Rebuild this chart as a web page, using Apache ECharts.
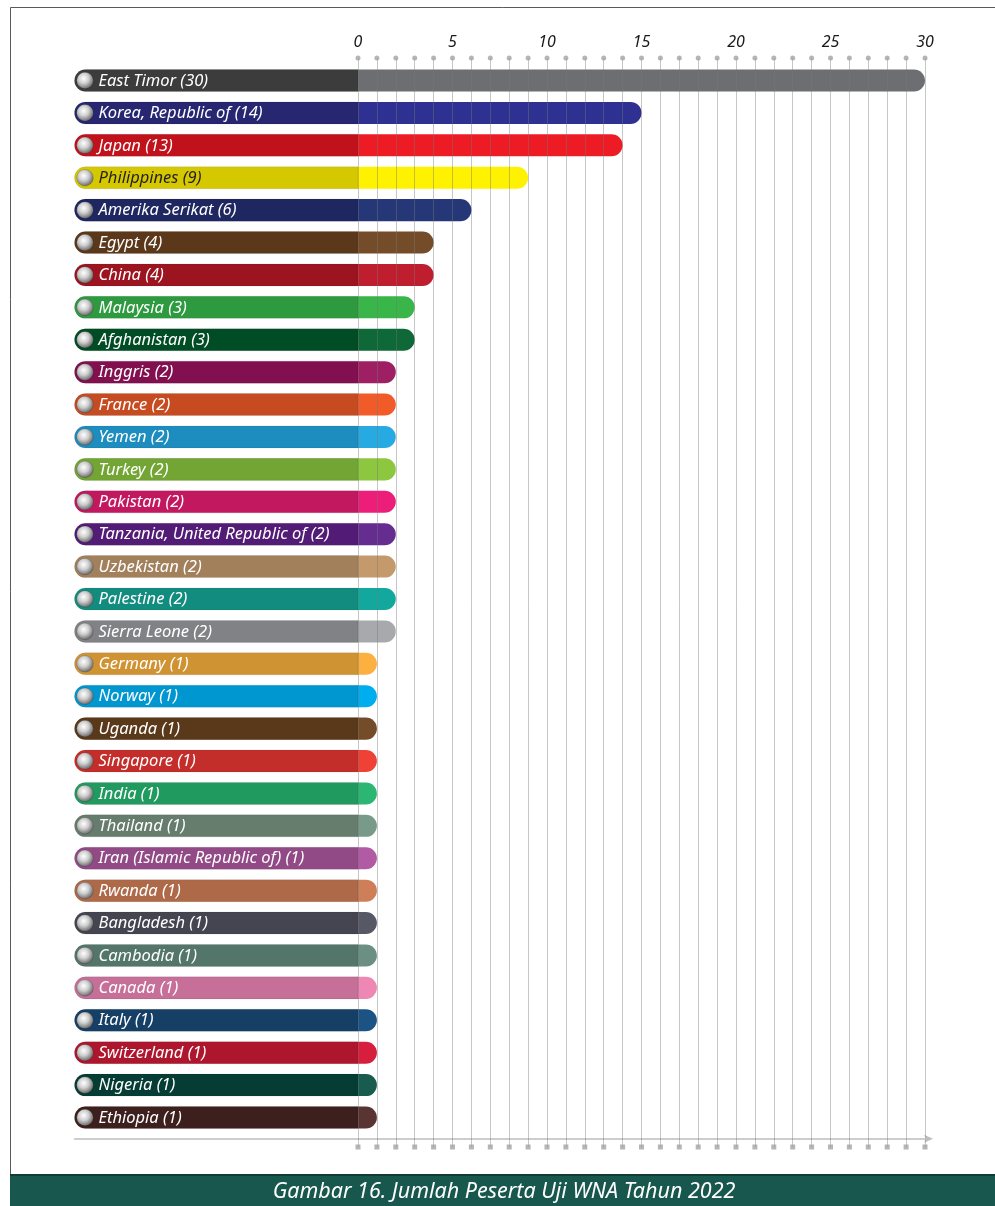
<!DOCTYPE html>
<html><head><meta charset="utf-8">
<script src="https://cdn.jsdelivr.net/npm/echarts@6/dist/echarts.min.js"></script>
<style>html,body{margin:0;padding:0;background:#fff}#c{width:995px;height:1206px}</style>
</head><body><div id="c"></div>
<script>
const countries = ['East Timor','Korea, Republic of','Japan','Philippines','Amerika Serikat','Egypt','China','Malaysia','Afghanistan','Inggris','France','Yemen','Turkey','Pakistan','Tanzania, United Republic of','Uzbekistan','Palestine','Sierra Leone','Germany','Norway','Uganda','Singapore','India','Thailand','Iran (Islamic Republic of)','Rwanda','Bangladesh','Cambodia','Canada','Italy','Switzerland','Nigeria','Ethiopia'];
// counts as printed in the labels
const counts = [30,14,13,9,6,4,4,3,3,2,2,2,2,2,2,2,2,2,1,1,1,1,1,1,1,1,1,1,1,1,1,1,1];
// bar lengths as drawn in the picture
const barValues = [30,15,14,9,6,4,4,3,3,2,2,2,2,2,2,2,2,2,1,1,1,1,1,1,1,1,1,1,1,1,1,1,1];
const pillColors = ['#3c3c3c','#262671','#c1121c','#d5c800','#1f2760','#5a3819','#9b1420','#2d9a3f','#004d25','#820f4f','#c64b21','#1d8cbf','#72a533','#c1185f','#521c76','#a2805b','#118c7e','#818285','#d09333','#0096d0','#5a391a','#c42e2a','#219a5f','#667d6e','#924a87','#ad6948','#444551','#53756a','#c66f99','#163f66','#ad162d','#053d34','#3d1f1e'];
const barColors = ['#6d6e71','#2e3192','#ed1c24','#fff200','#263778','#754c29','#be1e2d','#39b54a','#0f6838','#9e1f63','#f15a29','#27aae1','#8dc63f','#ed1e79','#662d91','#c49a6c','#13a89e','#a7a9ac','#fbb040','#00aeef','#754c29','#ef4136','#2bb673','#789a88','#b05ba3','#cf7f58','#575866','#6b8f82','#ee87b4','#1b5385','#d71f3d','#175c4f','#583532'];
const darkLabels = ['Philippines'];
const ticks = [0,1,2,3,4,5,6,7,8,9,10,11,12,13,14,15,16,17,18,19,20,21,22,23,24,25,26,27,28,29,30];
const tickLabels = ['0','5','10','15','20','25','30'];
const caption = 'Gambar 16. Jumlah Peserta Uji WNA Tahun 2022';

const FONT = '"Noto Sans", "Open Sans", sans-serif';
const chart = echarts.init(document.getElementById('c'), null, {renderer: 'canvas'});

function renderRow(params, api) {
  const v = api.value(0);
  const ci = api.value(1);
  const pStart = api.coord([-15, ci]);
  const pZero = api.coord([0, ci]);
  const pEnd = api.coord([v, ci]);
  const h = api.size([0, 1])[1] * 0.68;
  const y = pStart[1] - h / 2;
  const r = h / 2;
  const name = countries[ci];
  return {
    type: 'group',
    children: [
      {type: 'rect', shape: {x: pStart[0], y: y, width: pZero[0] - pStart[0], height: h, r: [r, 0, 0, r]},
       style: {fill: pillColors[ci], stroke: 'rgba(0,0,0,0.08)', lineWidth: 1}},
      {type: 'rect', shape: {x: pZero[0], y: y, width: pEnd[0] - pZero[0], height: h, r: [0, r, r, 0]},
       style: {fill: barColors[ci]}},
      {type: 'circle', shape: {cx: pStart[0] + 10.5, cy: pStart[1], r: 8.3},
       style: {fill: new echarts.graphic.RadialGradient(0.42, 0.38, 0.65, [
         {offset: 0, color: '#ffffff'}, {offset: 0.45, color: '#cfcfcf'}, {offset: 1, color: '#5e5e5e'}]),
         stroke: 'rgba(0,0,0,0.25)', lineWidth: 0.6}},
      {type: 'text', x: pStart[0] + 24, y: pStart[1] + 0.5,
       style: {text: name + ' (' + counts[ci] + ')', fill: darkLabels.includes(name) ? '#231f20' : '#ffffff',
         font: 'italic 16.5px ' + FONT, verticalAlign: 'middle', align: 'left'}}
    ]
  };
}

const option = {
  animation: false,
  backgroundColor: '#ffffff',
  grid: [
    {left: 74.5, right: 70, top: 64.3, bottom: 72.3},
    {left: 358, right: 70, top: 58, bottom: 59}
  ],
  xAxis: [
    {gridIndex: 0, type: 'value', min: -15, max: 30, position: 'bottom', offset: 5,
     axisLine: {show: true, lineStyle: {color: '#bdbdbd', width: 1.5}, symbol: ['none', 'arrow'], symbolSize: [6, 9], symbolOffset: [0, 8]},
     axisTick: {show: false}, axisLabel: {show: false}, splitLine: {show: false}},
    {gridIndex: 1, type: 'value', min: 0, max: 30, interval: 1, position: 'top', z: 5,
     axisLine: {show: false}, axisTick: {show: false},
     axisLabel: {margin: 8, color: '#1a1a1a', fontStyle: 'italic', fontSize: 16, fontFamily: FONT,
       formatter: v => tickLabels.includes(String(v)) ? String(v) : ''},
     splitLine: {show: true, lineStyle: {color: 'rgba(120,120,120,0.42)', width: 1}}}
  ],
  yAxis: [
    {gridIndex: 0, type: 'category', inverse: true, data: countries, show: false},
    {gridIndex: 1, type: 'value', min: 0, max: 1, show: false}
  ],
  series: [
    {type: 'custom', xAxisIndex: 0, yAxisIndex: 0, z: 2, renderItem: renderRow,
     data: barValues.map((v, i) => [v, i]), encode: {x: 0, y: 1}},
    {type: 'scatter', xAxisIndex: 1, yAxisIndex: 1, symbol: 'circle', symbolSize: 5, z: 6,
     itemStyle: {color: '#a3a3a3'}, data: ticks.map(t => [t, 1])},
    {type: 'scatter', xAxisIndex: 1, yAxisIndex: 1, symbol: 'rect', symbolSize: 5, z: 6,
     itemStyle: {color: '#a3a3a3'}, data: ticks.map(t => [t, 0])}
  ],
  graphic: [
    {type: 'polyline', z: 10, shape: {points: [[10.5, 1175], [10.5, 7.5], [995, 7.5]]},
     style: {stroke: '#5a5a5a', lineWidth: 1, fill: null}},
    {type: 'rect', z: 10, shape: {x: 10, y: 1175, width: 985, height: 31}, style: {fill: '#17574d'}},
    {type: 'rect', z: 10, shape: {x: 10, y: 1174, width: 985, height: 2}, style: {fill: '#0e3d35'}},
    {type: 'text', z: 11, x: 504, y: 1192,
     style: {text: caption, fill: '#ffffff', font: 'italic 21.5px ' + FONT, align: 'center', verticalAlign: 'middle'}}
  ]
};
chart.setOption(option);
</script></body></html>
